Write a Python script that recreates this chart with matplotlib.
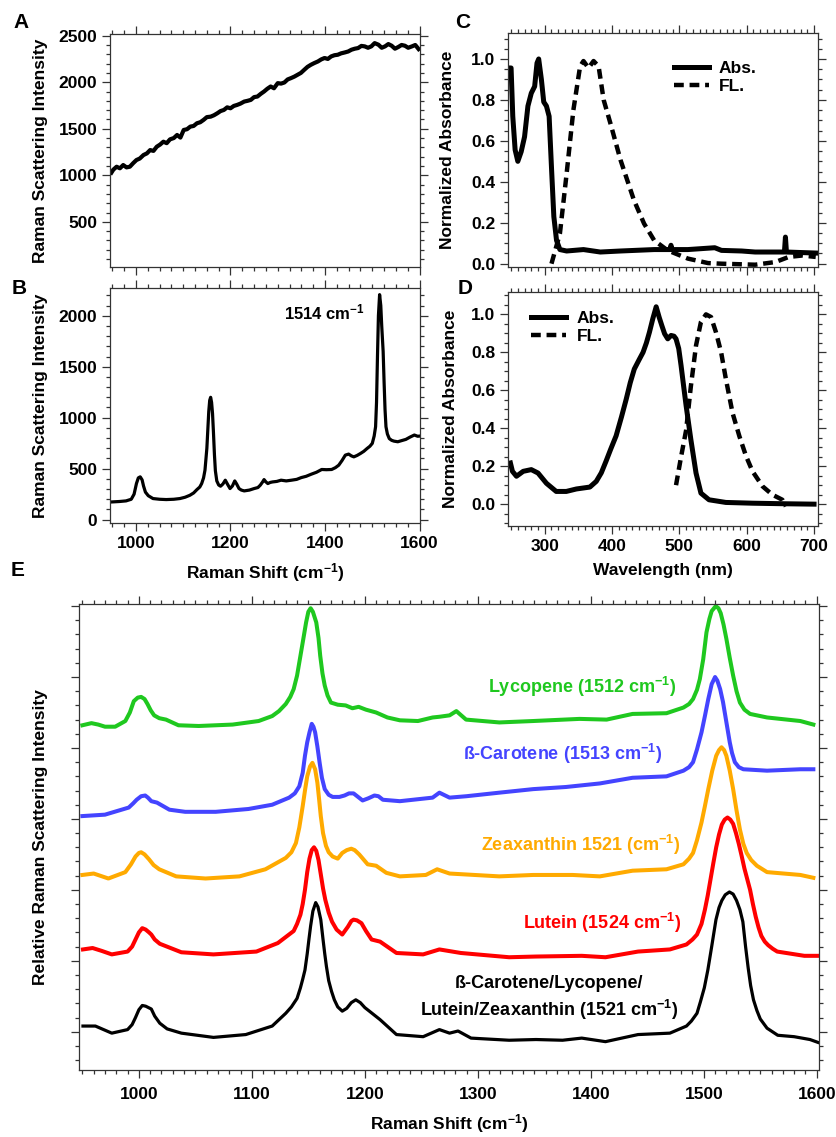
import matplotlib
matplotlib.use("Agg")
import matplotlib.pyplot as plt
import numpy as np
from matplotlib.ticker import MultipleLocator, NullFormatter

plt.rcParams['font.family'] = ['Liberation Sans', 'DejaVu Sans']
plt.rcParams['font.weight'] = 'bold'
plt.rcParams['axes.labelweight'] = 'bold'
plt.rcParams['mathtext.fontset'] = 'custom'
plt.rcParams['mathtext.rm'] = 'Liberation Sans:bold'
plt.rcParams['mathtext.default'] = 'rm'

# ---- panel A: raw spectrum with fluorescence background
a_shift = [948, 952, 959, 966, 973, 980, 987, 994, 1001, 1008,
           1016, 1023, 1030, 1037, 1044, 1051, 1058, 1065, 1072, 1080,
           1087, 1094, 1101, 1108, 1115, 1122, 1129, 1136, 1143, 1150,
           1158, 1165, 1172, 1179, 1186, 1193, 1200, 1207, 1214, 1221,
           1229, 1236, 1243, 1250, 1257, 1264, 1271, 1278, 1285, 1292,
           1300, 1307, 1314, 1321, 1328, 1335, 1342, 1349, 1356, 1363,
           1370, 1377, 1385, 1392, 1399, 1406, 1413, 1420, 1427, 1434,
           1442, 1449, 1456, 1463, 1470, 1477, 1484, 1491, 1498, 1505,
           1513, 1520, 1527, 1534, 1541, 1548, 1555, 1562, 1569, 1576,
           1584, 1591, 1598]
a_int = [1028, 1060, 1092, 1075, 1110, 1085, 1092, 1130, 1164, 1180,
         1218, 1235, 1271, 1262, 1307, 1330, 1361, 1345, 1386, 1400,
         1433, 1405, 1487, 1495, 1523, 1530, 1559, 1570, 1595, 1625,
         1630, 1645, 1666, 1690, 1702, 1730, 1720, 1745, 1756, 1770,
         1792, 1800, 1810, 1840, 1846, 1875, 1900, 1930, 1954, 1935,
         1990, 1985, 1997, 2030, 2044, 2060, 2080, 2100, 2133, 2165,
         2187, 2205, 2223, 2245, 2260, 2250, 2277, 2290, 2295, 2310,
         2320, 2330, 2349, 2360, 2367, 2390, 2385, 2370, 2385, 2420,
         2403, 2370, 2385, 2410, 2392, 2360, 2378, 2400, 2392, 2370,
         2385, 2400, 2356]

# ---- panel B: background-corrected spectrum
b_shift = [950, 965, 979, 990, 996, 1001, 1005, 1009, 1013, 1016,
           1020, 1026, 1036, 1050, 1064, 1080, 1093, 1104, 1114, 1122,
           1129, 1135, 1139, 1143, 1146, 1150, 1152, 1154, 1156, 1158,
           1160, 1162, 1164, 1166, 1168, 1171, 1175, 1179, 1184, 1189,
           1194, 1199, 1204, 1209, 1213, 1218, 1223, 1229, 1240, 1250,
           1258, 1263, 1268, 1271, 1275, 1279, 1284, 1289, 1298, 1307,
           1318, 1329, 1340, 1350, 1360, 1371, 1382, 1393, 1403, 1414,
           1422, 1429, 1436, 1443, 1450, 1456, 1461, 1468, 1475, 1482,
           1489, 1495, 1500, 1504, 1507, 1509, 1511, 1513, 1515.5, 1518,
           1520, 1523, 1525, 1527, 1529, 1532, 1536, 1541, 1546, 1554,
           1562, 1571, 1580, 1589, 1596, 1601]
b_int = [174, 178, 184, 200, 250, 354, 410, 420, 390, 330,
         270, 235, 207, 200, 197, 200, 207, 220, 239, 262,
         295, 320, 354, 410, 485, 700, 880, 1060, 1170, 1200,
         1150, 1040, 850, 640, 480, 380, 340, 328, 350, 387,
         345, 305, 330, 380, 350, 305, 290, 282, 290, 305,
         315, 338, 370, 393, 370, 354, 365, 370, 375, 387,
         380, 387, 395, 413, 425, 446, 465, 492, 490, 492,
         510, 534, 580, 633, 643, 625, 616, 630, 649, 670,
         698, 720, 748, 820, 911, 1150, 1600, 2000, 2207, 2100,
         1900, 1650, 1350, 1080, 911, 840, 795, 778, 770, 764,
         775, 787, 810, 830, 818, 820]

# ---- panel C: absorbance / fluorescence
c_abs_wl = [247, 250, 252.5, 256, 260, 265, 270, 275, 280, 285,
            288.5, 291, 295, 298.5, 302.5, 306.5, 310, 313.5, 317.5, 322.5,
            332.5, 357.5, 382.5, 412.5, 462.5, 486, 487.5, 489, 512.5, 552.5,
            562.5, 592.5, 612.5, 656, 657.5, 659, 702.5]
c_abs = [0.956, 0.956, 0.72, 0.556, 0.50, 0.547, 0.62, 0.77, 0.833, 0.866,
         0.98, 1.0, 0.90, 0.79, 0.77, 0.72, 0.47, 0.23, 0.114, 0.069,
         0.062, 0.069, 0.057, 0.062, 0.069, 0.069, 0.09, 0.069, 0.069, 0.078,
         0.065, 0.062, 0.057, 0.057, 0.13, 0.057, 0.052]
c_fl_wl = [310, 322.5, 332.5, 342.5, 352.5, 357.5, 365, 372.5, 380, 387.5,
           397.5, 412.5, 432.5, 447.5, 462.5, 482.5, 512.5, 542.5, 562.5, 612.5,
           642.5, 662.5, 682.5, 702.5]
c_fl = [0.0, 0.147, 0.44, 0.75, 0.964, 0.99, 0.956, 0.99, 0.964, 0.80,
        0.686, 0.507, 0.31, 0.196, 0.114, 0.065, 0.025, 0.003, 0.0, -0.005,
        0.008, 0.033, 0.04, 0.033]

# ---- panel D: absorbance / fluorescence
d_abs_wl = [249, 252, 258, 268, 280, 290, 302.5, 317, 332, 347,
            367, 376.5, 384, 391, 398, 406, 414, 421, 427, 433,
            440, 446, 451, 455.5, 460.5, 465.5, 470, 474, 478, 482.7,
            487.6, 492, 495, 499, 502.5, 506, 510, 517, 524.7, 532,
            544, 569, 608.6, 658, 700]
d_abs = [0.217, 0.173, 0.147, 0.173, 0.182, 0.164, 0.11, 0.067, 0.067, 0.08,
         0.09, 0.12, 0.165, 0.226, 0.29, 0.36, 0.46, 0.553, 0.64, 0.712,
         0.76, 0.80, 0.85, 0.906, 0.977, 1.04, 0.984, 0.94, 0.898, 0.871,
         0.889, 0.885, 0.871, 0.82, 0.73, 0.63, 0.518, 0.341, 0.164, 0.058,
         0.023, 0.009, 0.005, 0.002, 0.0]
d_fl_wl = [495, 502.5, 510, 517, 524.7, 532, 539.5, 547, 554.3, 562,
           569, 579, 589, 599, 608.6, 623.5, 638, 653, 658]
d_fl = [0.10, 0.25, 0.39, 0.62, 0.836, 0.96, 1.0, 0.986, 0.906, 0.80,
        0.66, 0.48, 0.359, 0.253, 0.173, 0.094, 0.05, 0.023, -0.012]

# ---- panel E: carotenoid standards (offset, arbitrary units)
lyc_x = [950, 958, 964, 970, 979, 988, 992, 995.5, 999, 1002,
         1005, 1007.6, 1010.5, 1013.5, 1018, 1024, 1035, 1053, 1083, 1106,
         1118, 1124, 1130, 1134, 1137, 1140, 1143, 1146, 1148, 1150,
         1152, 1154, 1157, 1159, 1160.5, 1162.5, 1164.5, 1167, 1170, 1176,
         1183, 1189, 1194.5, 1201, 1210, 1220, 1231, 1247, 1260, 1266,
         1275, 1281, 1289.6, 1319, 1349, 1390, 1414, 1437, 1467, 1482,
         1487, 1490.5, 1494, 1496.5, 1499.5, 1502.4, 1505, 1507, 1510.6, 1513,
         1515, 1517.5, 1520, 1523, 1526, 1529, 1532, 1536, 1541, 1556,
         1585.5, 1597]
lyc_y = [4.32, 4.35, 4.33, 4.30, 4.30, 4.38, 4.50, 4.66, 4.71, 4.72,
         4.69, 4.62, 4.53, 4.46, 4.42, 4.40, 4.32, 4.31, 4.33, 4.38,
         4.45, 4.52, 4.62, 4.72, 4.83, 5.02, 5.30, 5.58, 5.77, 5.92,
         5.97, 5.92, 5.77, 5.55, 5.30, 5.05, 4.88, 4.74, 4.64, 4.61,
         4.60, 4.56, 4.58, 4.54, 4.50, 4.43, 4.39, 4.38, 4.43, 4.44,
         4.46, 4.52, 4.40, 4.36, 4.38, 4.41, 4.40, 4.48, 4.49, 4.57,
         4.62, 4.69, 4.82, 4.97, 5.25, 5.63, 5.82, 5.93, 6.00, 5.97,
         5.90, 5.74, 5.54, 5.27, 5.02, 4.80, 4.64, 4.54, 4.48, 4.43,
         4.38, 4.33]

bcar_x = [950, 970, 991, 995, 998, 1002, 1005.6, 1008, 1011, 1016,
          1027, 1041, 1068, 1097, 1118, 1133, 1138, 1142, 1145, 1147,
          1149, 1151, 1153, 1154.5, 1156, 1158, 1160, 1162, 1164.5, 1168,
          1171.5, 1177.5, 1182, 1186, 1190, 1194, 1198, 1203, 1208.5, 1212,
          1216, 1231, 1260, 1266, 1275, 1290, 1319, 1349, 1378, 1408,
          1437, 1467, 1482, 1487, 1490.5, 1494, 1498, 1501, 1504, 1507,
          1510, 1512, 1514.5, 1517, 1519, 1521, 1523, 1525, 1527.5, 1531,
          1535, 1556, 1585.5, 1597]
bcar_y = [3.04, 3.06, 3.16, 3.22, 3.27, 3.32, 3.33, 3.30, 3.25, 3.23,
          3.13, 3.10, 3.10, 3.14, 3.20, 3.30, 3.36, 3.46, 3.65, 3.89,
          4.08, 4.22, 4.34, 4.30, 4.22, 4.02, 3.79, 3.58, 3.42, 3.34,
          3.31, 3.31, 3.33, 3.36, 3.36, 3.31, 3.26, 3.29, 3.33, 3.32,
          3.27, 3.25, 3.30, 3.37, 3.30, 3.32, 3.37, 3.42, 3.45, 3.50,
          3.58, 3.60, 3.68, 3.73, 3.80, 3.98, 4.22, 4.45, 4.69, 4.90,
          5.00, 4.95, 4.83, 4.65, 4.46, 4.27, 4.08, 3.93, 3.80, 3.73,
          3.70, 3.68, 3.70, 3.70]

zea_x = [950, 960, 973, 988, 993, 997, 1000, 1002, 1005, 1009,
         1013, 1018, 1033, 1059, 1089, 1112, 1130, 1135, 1139, 1142,
         1145, 1147, 1149, 1151.5, 1153.6, 1156, 1158, 1159.5, 1161, 1163,
         1165.6, 1168, 1171.5, 1176, 1180, 1184, 1188, 1191, 1195, 1202.5,
         1210, 1219, 1231, 1254, 1264, 1275, 1319, 1349, 1384, 1408,
         1437, 1467, 1482, 1487, 1490.5, 1494, 1498, 1501, 1504, 1507.5,
         1511, 1513.5, 1515.7, 1518, 1520, 1523, 1526, 1529, 1532, 1535,
         1538, 1542, 1547, 1556, 1585.5, 1597]
zea_y = [2.21, 2.23, 2.16, 2.25, 2.36, 2.47, 2.52, 2.53, 2.50, 2.43,
         2.35, 2.29, 2.19, 2.16, 2.19, 2.29, 2.45, 2.53, 2.66, 2.88,
         3.18, 3.40, 3.60, 3.74, 3.79, 3.70, 3.51, 3.28, 3.04, 2.80,
         2.62, 2.53, 2.47, 2.44, 2.52, 2.56, 2.58, 2.56, 2.50, 2.36,
         2.34, 2.24, 2.19, 2.21, 2.29, 2.23, 2.19, 2.21, 2.21, 2.19,
         2.27, 2.29, 2.36, 2.44, 2.52, 2.70, 2.95, 3.18, 3.42, 3.68,
         3.89, 3.97, 4.01, 3.97, 3.89, 3.68, 3.42, 3.12, 2.85, 2.65,
         2.52, 2.42, 2.34, 2.25, 2.21, 2.17]

lut_x = [950.5, 959, 967, 976, 990, 994, 997, 1000, 1003, 1006,
         1009, 1011, 1014, 1018.5, 1037.6, 1066, 1104, 1123, 1137, 1140,
         1143, 1145, 1147, 1149, 1151, 1153, 1155, 1157, 1159, 1161,
         1163, 1165, 1168, 1171, 1175, 1180, 1185, 1188, 1190, 1193,
         1197, 1201, 1206, 1213.5, 1228, 1251.6, 1266, 1285, 1327.7, 1351.5,
         1392, 1413, 1441.8, 1470, 1484.7, 1490, 1494, 1498, 1501, 1503.5,
         1506, 1508.5, 1511, 1513.5, 1516, 1518.5, 1521, 1523.5, 1526, 1528.5,
         1531, 1533.5, 1536, 1538.5, 1541, 1543.5, 1546, 1548.5, 1551, 1554,
         1557, 1561, 1565, 1589, 1601]
lut_y = [1.16, 1.18, 1.14, 1.09, 1.13, 1.20, 1.30, 1.40, 1.46, 1.44,
         1.40, 1.37, 1.30, 1.24, 1.12, 1.09, 1.13, 1.25, 1.42, 1.52,
         1.65, 1.80, 2.00, 2.25, 2.44, 2.56, 2.60, 2.55, 2.42, 2.22,
         2.02, 1.86, 1.68, 1.55, 1.44, 1.37, 1.48, 1.56, 1.58, 1.57,
         1.53, 1.42, 1.30, 1.27, 1.11, 1.09, 1.16, 1.11, 1.05, 1.06,
         1.07, 1.05, 1.13, 1.16, 1.23, 1.30, 1.37, 1.52, 1.72, 1.92,
         2.15, 2.38, 2.60, 2.78, 2.92, 2.99, 3.02, 2.99, 2.93, 2.80,
         2.65, 2.48, 2.30, 2.15, 2.00, 1.80, 1.62, 1.47, 1.35, 1.27,
         1.22, 1.17, 1.13, 1.07, 1.07]

mix_x = [950.5, 961.5, 976, 990, 994, 997, 1000, 1003, 1006, 1011,
         1014, 1018.5, 1025, 1037.6, 1066, 1094.6, 1118, 1130, 1135, 1140,
         1143, 1145, 1147, 1149, 1150.5, 1152, 1154, 1156.5, 1158.5, 1161,
         1163, 1164.5, 1166, 1168, 1170.5, 1173, 1176, 1180, 1184, 1188,
         1192, 1196, 1200, 1204, 1213.5, 1228, 1251.6, 1266, 1275, 1282.5,
         1294, 1327.7, 1351.5, 1375, 1392, 1413, 1441.8, 1470, 1484.7, 1489,
         1494, 1497, 1500.5, 1503.6, 1507, 1510.8, 1513.5, 1516, 1519, 1522.7,
         1526, 1529, 1532, 1534.6, 1537, 1539.3, 1541.5, 1544, 1547, 1550,
         1556, 1565.5, 1580, 1594, 1601]
mix_y = [0.08, 0.08, -0.02, 0.03, 0.10, 0.20, 0.31, 0.37, 0.36, 0.32,
         0.22, 0.12, 0.04, -0.02, -0.08, -0.04, 0.08, 0.26, 0.35, 0.47,
         0.62, 0.74, 0.87, 1.10, 1.30, 1.49, 1.70, 1.82, 1.76, 1.58,
         1.30, 1.10, 0.92, 0.72, 0.57, 0.45, 0.35, 0.29, 0.33, 0.41,
         0.45, 0.41, 0.34, 0.29, 0.17, -0.04, -0.07, 0.03, -0.02, 0.01,
         -0.09, -0.12, -0.11, -0.12, -0.09, -0.14, -0.04, -0.02, 0.08, 0.15,
         0.26, 0.42, 0.62, 0.87, 1.20, 1.58, 1.75, 1.85, 1.93, 1.97,
         1.94, 1.85, 1.72, 1.55, 1.20, 0.90, 0.65, 0.45, 0.30, 0.18,
         0.05, -0.05, -0.07, -0.11, -0.15]

e_labels = ["Lycopene (1512 cm$^{-1}$)", "ß-Carotene (1513 cm$^{-1}$)",
            "Zeaxanthin 1521 (cm$^{-1}$)", "Lutein (1524 cm$^{-1}$)",
            "ß-Carotene/Lycopene/\nLutein/Zeaxanthin (1521 cm$^{-1}$)"]
e_colors = ["#1fc81f", "#4444ff", "#ffaa00", "#ff0000", "#000000"]

FS = 12.5
SPINE = "#333333"


def style(ax, xmaj, xmin, ymaj, ymin, xlabels=True, ylabels=True, xpad=3.5):
    ax.xaxis.set_major_locator(MultipleLocator(xmaj))
    ax.xaxis.set_minor_locator(MultipleLocator(xmin))
    ax.yaxis.set_major_locator(MultipleLocator(ymaj))
    ax.yaxis.set_minor_locator(MultipleLocator(ymin))
    ax.tick_params(which="both", direction="out", top=True, right=True,
                   width=0.9, color=SPINE, labelsize=FS)
    ax.tick_params(which="major", length=6)
    ax.tick_params(which="minor", length=3)
    ax.tick_params(axis="x", pad=xpad)
    ax.tick_params(axis="y", pad=3)
    if not xlabels:
        ax.xaxis.set_major_formatter(NullFormatter())
    if not ylabels:
        ax.yaxis.set_major_formatter(NullFormatter())
    for s in ax.spines.values():
        s.set_linewidth(0.9)
        s.set_color(SPINE)


fig = plt.figure(figsize=(8.37, 11.37), dpi=100)

# A
axA = fig.add_axes([0.1314, 0.7652, 0.3704, 0.2049])
axA.plot(a_shift, a_int, color="black", lw=3.0)
axA.set_xlim(945, 1601)
axA.set_ylim(15, 2518)
style(axA, 200, 25, 500, 100, xlabels=False)
axA.yaxis.set_major_locator(plt.FixedLocator([500, 1000, 1500, 2000, 2500]))
axA.set_ylabel("Raman Scattering Intensity", fontsize=FS)
axA.yaxis.set_label_coords(-0.2, 0.5)

# B
axB = fig.add_axes([0.1314, 0.540, 0.3704, 0.2067])
axB.plot(b_shift, b_int, color="black", lw=2.3)
axB.set_xlim(945, 1601)
axB.set_ylim(-33, 2272)
style(axB, 200, 25, 500, 100)
axB.set_ylabel("Raman Scattering Intensity", fontsize=FS)
axB.yaxis.set_label_coords(-0.2, 0.5)
axB.set_xlabel("Raman Shift (cm$^{-1}$)", fontsize=FS)
axB.xaxis.set_label_coords(0.5, -0.16)
axB.text(1398, 2030, "1514 cm$^{-1}$", fontsize=12, ha="center", va="center")

# C
axC = fig.add_axes([0.607, 0.7652, 0.3704, 0.2058])
axC.plot(c_abs_wl, c_abs, color="black", lw=3.6, label="Abs.")
axC.plot(c_fl_wl, c_fl, color="black", lw=3.2, ls=(0, (2.2, 1.3)), label="FL.")
axC.set_xlim(245.5, 706)
axC.set_ylim(-0.016, 1.127)
style(axC, 100, 10, 0.2, 0.05, xlabels=False)
axC.yaxis.set_major_formatter(plt.FuncFormatter(lambda v, p: f"{v:.1f}"))
axC.set_ylabel("Normalized Absorbance", fontsize=FS)
axC.yaxis.set_label_coords(-0.171, 0.5)
axC.legend(loc="upper left", bbox_to_anchor=(0.535, 0.88), frameon=False,
           fontsize=FS, handlelength=2.0, handletextpad=0.6, labelspacing=0.15,
           borderpad=0, borderaxespad=0)

# D
axD = fig.add_axes([0.607, 0.5374, 0.3704, 0.2058])
axD.plot(d_abs_wl, d_abs, color="black", lw=3.6, label="Abs.")
axD.plot(d_fl_wl, d_fl, color="black", lw=3.2, ls=(0, (2.2, 1.3)), label="FL.")
axD.set_xlim(245.5, 706)
axD.set_ylim(-0.115, 1.118)
style(axD, 100, 10, 0.2, 0.05)
axD.yaxis.set_major_locator(plt.FixedLocator([0.0, 0.2, 0.4, 0.6, 0.8, 1.0]))
axD.yaxis.set_major_formatter(plt.FuncFormatter(lambda v, p: f"{v:.1f}"))
axD.set_ylabel("Normalized Absorbance", fontsize=FS)
axD.yaxis.set_label_coords(-0.161, 0.5)
axD.set_xlabel("Wavelength (nm)", fontsize=FS)
axD.xaxis.set_label_coords(0.5, -0.158)
axD.legend(loc="upper left", bbox_to_anchor=(0.075, 0.92), frameon=False,
           fontsize=FS, handlelength=2.0, handletextpad=0.6, labelspacing=0.15,
           borderpad=0, borderaxespad=0)

# E
axE = fig.add_axes([0.0944, 0.0589, 0.8841, 0.4099])
series = [(lyc_x, lyc_y), (bcar_x, bcar_y), (zea_x, zea_y), (lut_x, lut_y), (mix_x, mix_y)]
for (xs, ys), col in zip(series, e_colors):
    axE.plot(xs, ys, color=col, lw=2.9 if col != "#000000" else 2.3)
axE.set_xlim(947, 1602)
axE.set_ylim(-0.54, 6.03)
style(axE, 100, 10, 1, 0.2, ylabels=False, xpad=6)
axE.set_ylabel("Relative Raman Scattering Intensity", fontsize=FS)
axE.yaxis.set_label_coords(-0.042, 0.5)
axE.set_xlabel("Raman Shift (cm$^{-1}$)", fontsize=FS)
axE.xaxis.set_label_coords(0.5, -0.09)

label_pos = [(1392, 4.86), (1375, 3.91), (1391, 2.64), (1410, 1.54), (1363, 0.47)]
for (lx, ly), txt, col in zip(label_pos, e_labels, e_colors):
    axE.text(lx, ly, txt, color=col, fontsize=13, ha="center", va="center",
             linespacing=1.3)

# panel letters
for letter, (px, py) in zip("ABCDE", [(21, 22), (19, 289), (463, 22), (465, 289), (18, 571)]):
    fig.text(px / 837, 1 - py / 1137, letter, fontsize=15, ha="center", va="center")

fig.savefig("out.png", dpi=100)
